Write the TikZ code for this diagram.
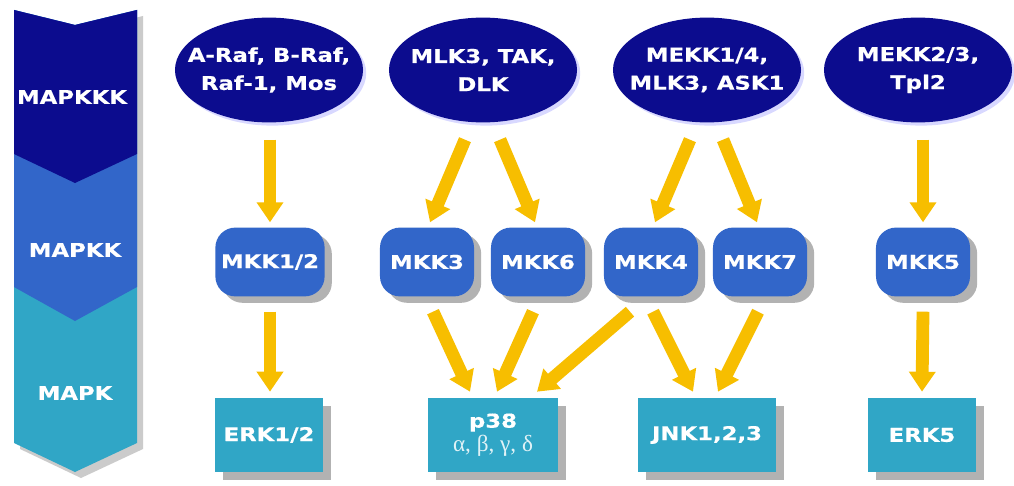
\documentclass[tikz,border=0pt]{standalone}
\usepackage{fontspec}
\newfontfamily\lblfont[FakeStretch=1.2,FakeBold=0.6]{DejaVu Sans}
\newfontfamily\grkfont{Liberation Serif}
\usepackage{xcolor}
\usetikzlibrary{arrows.meta,calc,shapes.geometric,shadows}
\definecolor{kkkblue}{HTML}{0C0C8E}
\definecolor{kkblue}{HTML}{3266C9}
\definecolor{kteal}{HTML}{30A6C6}
\definecolor{sigyellow}{HTML}{F7BE00}
\tikzset{
  lbltext/.style={text=white,font=\lblfont\bfseries\fontsize{13.5}{20}\selectfont},
  kkknode/.style={lbltext,ellipse,fill=kkkblue,minimum width=4.7cm,minimum height=2.62cm,inner xsep=-0.4cm,inner ysep=0pt,align=center,
    drop shadow={shadow xshift=0.08cm,shadow yshift=-0.08cm,fill=blue!25,opacity=0.6}},
  kknode/.style={lbltext,fill=kkblue,rounded corners=0.5cm,minimum width=2.35cm,minimum height=1.72cm,inner xsep=4pt,
    drop shadow={shadow xshift=0.18cm,shadow yshift=-0.16cm,fill=black!55,opacity=0.55}},
  knode/.style={lbltext,fill=kteal,minimum width=2.7cm,minimum height=1.85cm,align=center,
    drop shadow={shadow xshift=0.2cm,shadow yshift=-0.2cm,fill=black!55,opacity=0.55}},
  tierlbl/.style={lbltext},
  sigarr/.style={draw=sigyellow,line width=0.32cm,-{Triangle[width=0.64cm,length=0.5cm]}}
}

\begin{document}
\begin{tikzpicture}[x=0.025cm,y=-0.025cm]
\useasboundingbox[fill=white] (0,0) rectangle (1014,486);

% tier banner
\fill[black!45,opacity=0.45] (20,16) -- (81,31) -- (143,16) -- (143,449) -- (81,478) -- (20,449) -- cycle;
\fill[kteal] (14,10) -- (75,25) -- (137,10) -- (137,443) -- (75,472) -- (14,443) -- cycle;
\fill[kkblue] (14,10) -- (75,25) -- (137,10) -- (137,287) -- (75,321) -- (14,287) -- cycle;
\fill[kkkblue] (14,10) -- (75,25) -- (137,10) -- (137,154) -- (75,183) -- (14,154) -- cycle;
\node[tierlbl] (tkkk) at (72,97) {MAPKKK};
\node[tierlbl] (tkk) at (75,250) {MAPKK};
\node[tierlbl] (tk) at (75,393) {MAPK};

% MAPKKK
\node[kkknode] (raf) at (269,70) {A-Raf, B-Raf,\\Raf-1, Mos};
\node[kkknode] (mlk) at (483,70) {MLK3, TAK,\\DLK};
\node[kkknode] (mekk) at (707,70) {MEKK1/4,\\MLK3, ASK1};
\node[kkknode] (tpl) at (918,70) {MEKK2/3,\\Tpl2};

% MAPKK
\node[kknode] (mkk12) at (270,262) {MKK1/2};
\node[kknode] (mkk3) at (427,262) {MKK3};
\node[kknode] (mkk6) at (538,262) {MKK6};
\node[kknode] (mkk4) at (651,262) {MKK4};
\node[kknode] (mkk7) at (760,262) {MKK7};
\node[kknode] (mkk5) at (923,262) {MKK5};

% MAPK
\node[knode] (erk12) at (269,435) {ERK1/2};
\node[knode,minimum width=3.25cm] (p38) at (493,435) {p38\\[-3pt]{\grkfont\mdseries\fontsize{16.5}{18}\selectfont\color{white!85!kteal}α, β, γ, δ}};
\node[knode,minimum width=3.47cm] (jnk) at (707,435) {JNK1,2,3};
\node[knode] (erk5) at (922,435) {ERK5};

% MAPKKK -> MAPKK
\draw[sigarr] ($(raf.south)+(1,17)$) -- ($(mkk12.north)+(0,-5)$);
\draw[sigarr] ($(mlk.south)+(-18,17)$) -- ($(mkk3.north)+(3,-5)$);
\draw[sigarr] ($(mlk.south)+(17,17)$) -- ($(mkk6.north)+(-3,-5)$);
\draw[sigarr] ($(mekk.south)+(-17,17)$) -- ($(mkk4.north)+(4,-5)$);
\draw[sigarr] ($(mekk.south)+(16,17)$) -- ($(mkk7.north)+(-3,-5)$);
\draw[sigarr] ($(tpl.south)+(5,17)$) -- ($(mkk5.north)+(0,-5)$);

% MAPKK -> MAPK
\draw[sigarr] ($(mkk12.south)+(0,15)$) -- ($(erk12.north)+(1,-6)$);
\draw[sigarr] ($(mkk3.south)+(6,15)$) -- ($(p38.north)+(-23,-6)$);
\draw[sigarr] ($(mkk6.south)+(-5,15)$) -- ($(p38.north)+(4,-6)$);
\draw[sigarr] ($(mkk4.south)+(-21,15)$) -- ($(p38.north)+(44,-6)$);
\draw[sigarr] ($(mkk4.south)+(2,15)$) -- ($(jnk.north)+(-14,-6)$);
\draw[sigarr] ($(mkk7.south)+(-2,15)$) -- ($(jnk.north)+(11,-6)$);
\draw[sigarr] ($(mkk5.south)+(0,15)$) -- ($(erk5.north)+(0,-6)$);
\end{tikzpicture}
\end{document}
